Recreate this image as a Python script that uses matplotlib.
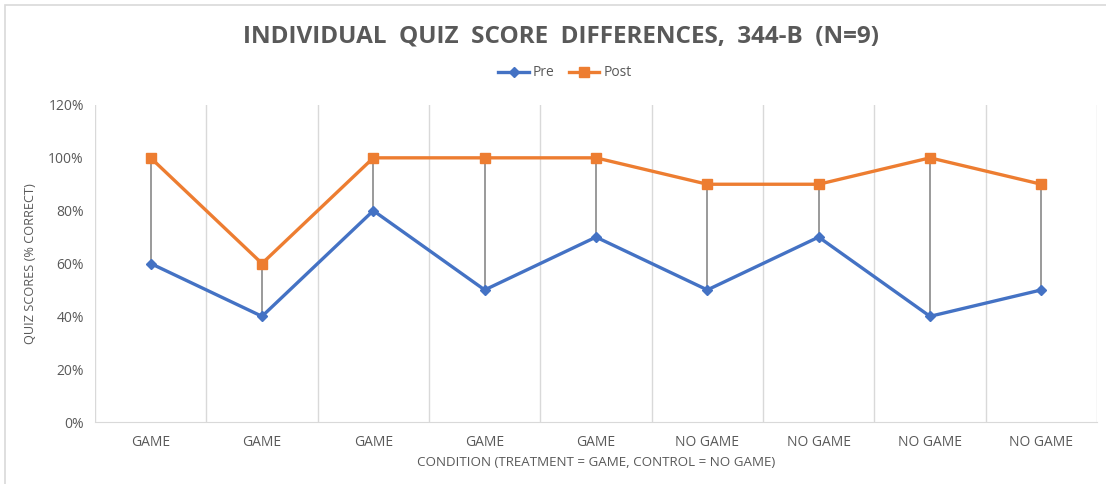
import matplotlib
matplotlib.use("Agg")
import matplotlib.pyplot as plt
from matplotlib.patches import Rectangle
from matplotlib.ticker import PercentFormatter, FixedLocator

categories = ["GAME", "GAME", "GAME", "GAME", "GAME", "NO GAME", "NO GAME", "NO GAME", "NO GAME"]
pre = [0.60, 0.40, 0.80, 0.50, 0.70, 0.50, 0.70, 0.40, 0.50]
post = [1.00, 0.60, 1.00, 1.00, 1.00, 0.90, 0.90, 1.00, 0.90]
yticks = [0, 0.2, 0.4, 0.6, 0.8, 1.0, 1.2]

plt.rcParams['font.family'] = ['Open Sans', 'DejaVu Sans']
W, H = 1106, 484
fig = plt.figure(figsize=(W/100, H/100), dpi=100)
fig.patches.append(Rectangle((5/W, -0.1), 1.2, 1 - 5/H + 0.1, transform=fig.transFigure,
                             fill=False, edgecolor='#d9d9d9', linewidth=1.2))

ax = fig.add_axes([95/W, 1 - 422/H, (1097 - 95)/W, (422 - 105)/H])
x = list(range(len(categories)))

# high-low lines
for xi, a, b in zip(x, pre, post):
    ax.plot([xi, xi], [a, b], color='#7f7f7f', linewidth=1.1, zorder=2)

ax.plot(x, pre, color='#4472C4', linewidth=2.4, marker='D', markersize=5.5, label='Pre', zorder=3)
ax.plot(x, post, color='#ED7D31', linewidth=2.4, marker='s', markersize=7, label='Post', zorder=4)

ax.set_xlim(-0.5, len(categories) - 0.5)
ax.set_ylim(0, 1.2)
ax.set_yticks(yticks)
ax.yaxis.set_major_formatter(PercentFormatter(1.0, decimals=0))
ax.set_xticks(x)
ax.set_xticklabels(categories)
ax.xaxis.set_minor_locator(FixedLocator([i + 0.5 for i in range(-1, len(categories))]))
ax.grid(which='minor', axis='x', color='#d9d9d9', linewidth=1)
ax.tick_params(axis='both', which='both', length=0)
ax.tick_params(axis='x', labelsize=10, colors='#595959', pad=9)
ax.tick_params(axis='y', labelsize=10, colors='#595959', pad=8)
for s in ['top', 'right', 'left']:
    ax.spines[s].set_visible(False)
ax.spines['bottom'].set_color('#d9d9d9')

ax.set_ylabel('QUIZ SCORES (% CORRECT)', fontsize=9.2, color='#595959', labelpad=8)
ax.set_xlabel('CONDITION (TREATMENT = GAME, CONTROL = NO GAME)', fontsize=9.6, color='#595959', labelpad=5)

fig.text(561/W, 1 - 36/H, 'INDIVIDUAL  QUIZ  SCORE  DIFFERENCES,  344-B  (N=9)', ha='center', va='center',
         fontsize=17.5, fontweight='bold', color='#595959')

leg = fig.legend(loc='center', bbox_to_anchor=(565/W, 1 - 73/H), ncol=2, frameon=False,
                 fontsize=10, labelcolor='#595959', handlelength=2.2, handletextpad=0.3, columnspacing=1.0)

fig.savefig('out.png', dpi=100)
